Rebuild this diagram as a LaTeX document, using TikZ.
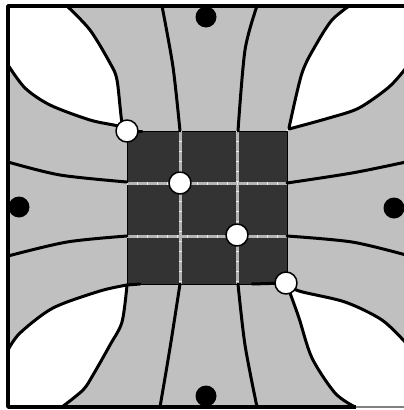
\documentclass[tikz,border=0pt]{standalone}
\usepackage{tikz}
\usetikzlibrary{positioning}
\definecolor{fieldgray}{HTML}{C0C0C0}
\definecolor{coredark}{HTML}{333333}
\definecolor{gridgray}{HTML}{B4B4B4}

\begin{document}
\begin{tikzpicture}[x=1pt, y=-1pt, line join=round,
    curve/.style={line width=3pt, line cap=round},
    opendot/.style={circle, draw, line width=1.5pt, fill=white, minimum size=22pt, inner sep=0pt},
    fulldot/.style={circle, fill=black, minimum size=21pt, inner sep=0pt},
    gridline/.style={gridgray, line width=3pt}]
    \useasboundingbox (0,0) rectangle (404,410);
    \clip (0,0) rectangle (404,410);
    % Background field
    \fill[fieldgray] (8,6) rectangle (412,407);
    % White corner regions
    \fill[white] (8,6) -- plot[smooth] coordinates {(67,6) (90,30) (110,63) (117,80) (122,123) (127,131)}
      -- plot[smooth] coordinates {(127,131) (118,126) (90,120) (50,105) (25,88) (8,65)} -- cycle;
    \fill[white] (412,6) -- plot[smooth] coordinates {(349,6) (332,20) (317,43) (302,73) (289,128) (287,131)}
      -- plot[smooth] coordinates {(287,131) (290,128) (329,118) (359,108) (389,87) (406,68)} -- cycle;
    \fill[white] (8,407) -- plot[smooth] coordinates {(8,350) (20,333) (53,308) (100,291) (127,285)}
      -- plot[smooth] coordinates {(127,285) (122,322) (110,345) (93,375) (83,390) (62,407)} -- cycle;
    \fill[white] (412,407) -- plot[smooth] coordinates {(355,407) (335,393) (312,358) (299,318) (290,293) (286,283)}
      -- plot[smooth] coordinates {(286,283) (299,291) (345,302) (382,320) (406,343)} -- cycle;
    % Core square with grid
    \filldraw[fill=coredark, draw=black, line width=0.8pt] (127,131) rectangle (287,284);
    \foreach \gx in {180,237} {
      \draw[gridline] (\gx,131) -- (\gx,284);
      \draw[white!85!gray, line width=3pt, dash pattern=on 1pt off 9pt] (\gx,131) -- (\gx,284);
    }
    \foreach \gy in {183,236} {
      \draw[gridline] (127,\gy) -- (287,\gy);
      \draw[white!85!gray, line width=3pt, dash pattern=on 1pt off 9pt] (127,\gy) -- (287,\gy);
    }
    % Corner boundaries
    \draw[curve] plot[smooth] coordinates {(67,6) (90,30) (110,63) (117,80) (122,123) (127,131)};
    \draw[curve] plot[smooth] coordinates {(8,65) (25,88) (50,105) (90,120) (118,126) (127,131)};
    \draw[curve] plot[smooth] coordinates {(349,6) (332,20) (317,43) (302,73) (289,128)};
    \draw[curve] plot[smooth] coordinates {(406,68) (389,87) (359,108) (329,118) (289,129)};
    \draw[curve] plot[smooth] coordinates {(8,350) (20,333) (53,308) (100,291) (127,285)};
    \draw[curve] plot[smooth] coordinates {(127,285) (122,322) (110,345) (93,375) (83,390) (62,407)};
    \draw[curve] plot[smooth] coordinates {(286,283) (290,293) (299,318) (312,358) (335,393) (355,407)};
    \draw[curve] plot[smooth] coordinates {(286,283) (299,291) (345,302) (382,320) (406,343)};
    \draw[curve] (127,131) -- (142,131);
    \draw[curve] (127,285) -- (140,284);
    \draw[curve] (252,284) -- (286,283);
    % Field lines
    \draw[curve] plot[smooth] coordinates {(162,6) (173,67) (180,131)};
    \draw[curve] plot[smooth] coordinates {(257,6) (245,50) (238,131)};
    \draw[curve] plot[smooth] coordinates {(8,162) (60,175) (127,182)};
    \draw[curve] plot[smooth] coordinates {(8,256) (67,242) (127,236)};
    \draw[curve] plot[smooth] coordinates {(287,183) (352,173) (406,162)};
    \draw[curve] plot[smooth] coordinates {(287,236) (352,242) (406,255)};
    \draw[curve] plot[smooth] coordinates {(180,284) (170,348) (160,407)};
    \draw[curve] plot[smooth] coordinates {(238,284) (245,345) (257,407)};
    % Frame
    \draw[line width=3.5pt] (412,6) -- (8,6) -- (8,407) -- (356,407);
    \draw[gray, line width=1.2pt] (356,407) -- (412,407);
    % Charges
    \foreach \nm/\px/\py in {top/206/17, left/19/207, right/394/208, bottom/206/396} {
      \node[fulldot] (\nm) at (\px,\py) {};
    }
    % Junctions
    \foreach \nm/\px/\py in {ja/127/131, jb/180/183, jc/237/235, jd/286/283} {
      \node[opendot] (\nm) at (\px,\py) {};
    }
\end{tikzpicture}
\end{document}
